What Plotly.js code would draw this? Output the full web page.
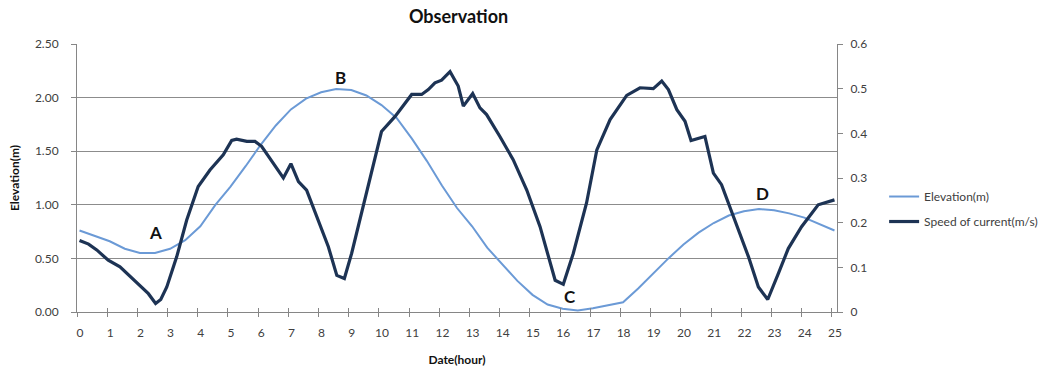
<!DOCTYPE html>
<html>
<head>
<meta charset="utf-8">
<script src="https://cdn.plot.ly/plotly-3.0.1.min.js"></script>
<style>
  html, body { margin: 0; padding: 0; background: #ffffff; }
  #chart { width: 1057px; height: 370px; }
</style>
</head>
<body>
<div id="chart"></div>
<script>
// Tidal observation over 25 hours: water elevation (left axis) and current speed (right axis)

// Hour labels along the bottom axis
const hourLabels = [0,1,2,3,4,5,6,7,8,9,10,11,12,13,14,15,16,17,18,19,20,21,22,23,24,25];

// Elevation (m), sampled every half hour
const elevationHour = [0,0.5,1,1.5,2,2.5,3,3.5,4,4.5,5,5.5,6,6.5,7,7.5,8,8.5,9,9.5,10,10.5,11,11.5,12,12.5,
                       13,13.5,14,14.5,15,15.5,16,16.5,17,17.5,18,18.5,19,19.5,20,20.5,21,21.5,22,22.5,23,23.5,24,24.5,25];
const elevation = [0.76,0.71,0.66,0.59,0.55,0.55,0.59,0.67,0.80,1.00,1.17,1.36,1.56,1.74,1.89,1.99,2.05,2.08,2.07,2.02,
                   1.93,1.81,1.62,1.41,1.18,0.97,0.80,0.60,0.44,0.29,0.16,0.07,0.03,0.015,0.035,0.06,0.09,0.22,0.36,0.50,
                   0.63,0.74,0.83,0.90,0.94,0.96,0.95,0.92,0.88,0.82,0.76];

// Speed of current (m/s)
const speedHour = [0,0.30,0.57,0.95,1.34,1.89,2.28,2.52,2.69,2.89,3.22,3.55,3.93,4.32,4.76,5.04,5.20,5.54,5.81,6.03,
                   6.14,6.42,6.75,7.00,7.25,7.52,7.91,8.24,8.52,8.77,9.01,9.45,9.78,10.00,10.45,11.00,11.33,11.55,11.77,11.99,
                   12.27,12.54,12.71,13.02,13.26,13.48,13.92,14.36,14.81,15.25,15.75,16.02,16.35,16.79,17.13,17.57,18.12,18.56,19.00,19.28,
                   19.50,19.78,20.05,20.25,20.71,20.99,21.26,21.71,22.15,22.48,22.79,23.14,23.47,23.91,24.46,25.00];
const speed = [0.160,0.152,0.139,0.116,0.101,0.067,0.041,0.019,0.028,0.056,0.124,0.206,0.281,0.318,0.352,0.384,0.387,0.382,0.382,0.371,
               0.360,0.333,0.300,0.332,0.292,0.273,0.206,0.146,0.082,0.075,0.131,0.251,0.348,0.404,0.438,0.487,0.487,0.498,0.513,0.519,
               0.538,0.506,0.461,0.489,0.457,0.442,0.393,0.341,0.273,0.191,0.071,0.062,0.131,0.244,0.363,0.431,0.485,0.502,0.500,0.517,
               0.498,0.453,0.427,0.384,0.393,0.311,0.285,0.206,0.124,0.056,0.028,0.086,0.142,0.191,0.240,0.251];

// Marked points of interest on the elevation scale
const markLabels = ['A','B','C','D'];
const markHour = [2.5, 8.65, 16.25, 22.6];
const markElev = [0.745, 2.19, 0.14, 1.11];

// Half a sampling step: category ticks sit between samples
const halfStep = 1 / 12;
const xRange = [-halfStep, 25 + halfStep];
const tickPos = hourLabels.map(h => h - halfStep);

const FONT = 'Lato, "Open Sans", sans-serif';
const AXIS_GRAY = '#868686';
const TEXT_GRAY = '#404040';

const traces = [
  {
    x: elevationHour, y: elevation, name: 'Elevation(m)',
    type: 'scatter', mode: 'lines', xaxis: 'x', yaxis: 'y',
    legendgroup: 'g1',
    line: { color: '#6b9ad6', width: 2 }
  },
  {
    x: speedHour, y: speed, name: 'Speed of current(m/s)',
    type: 'scatter', mode: 'lines', xaxis: 'x', yaxis: 'y2',
    legendgroup: 'g2',
    line: { color: '#1d3354', width: 3.2 }
  }
];

const layout = {
  width: 1057, height: 370,
  margin: { l: 77, r: 220, t: 44, b: 58, pad: 0 },
  paper_bgcolor: '#ffffff', plot_bgcolor: '#ffffff',
  font: { family: FONT, size: 12, color: TEXT_GRAY },
  title: {
    text: '<b>Observation</b>',
    font: { family: FONT, size: 18, color: '#111111' },
    x: 0.502, xref: 'paper', xanchor: 'center',
    y: 0.955, yref: 'container', yanchor: 'middle'
  },
  showlegend: true,
  legend: {
    x: 1.062, xanchor: 'left', y: 0.485, yanchor: 'top',
    font: { family: FONT, size: 12, color: TEXT_GRAY },
    tracegroupgap: 6, bgcolor: 'rgba(0,0,0,0)'
  },
  xaxis: {
    range: xRange, fixedrange: true,
    tickmode: 'array', tickvals: tickPos, ticktext: hourLabels.map(String),
    ticklabelshift: 3, ticklabelstandoff: 6,
    ticks: 'outside', ticklen: 4, tickcolor: AXIS_GRAY, tickwidth: 1,
    showline: true, linecolor: AXIS_GRAY, linewidth: 1,
    showgrid: false, zeroline: false,
    tickfont: { family: FONT, size: 12, color: TEXT_GRAY },
    title: { text: '<b>Date(hour)</b>', font: { family: FONT, size: 12, color: '#111111' }, standoff: 16 }
  },
  // Overlay axis that draws the inner half of the crossing tick marks
  xaxis2: {
    overlaying: 'x', anchor: 'y', range: xRange, fixedrange: true,
    tickmode: 'array', tickvals: tickPos, showticklabels: false,
    ticks: 'inside', ticklen: 4, tickcolor: AXIS_GRAY, tickwidth: 1,
    showline: false, showgrid: false, zeroline: false
  },
  yaxis: {
    range: [0, 2.5], fixedrange: true,
    tickmode: 'linear', tick0: 0, dtick: 0.5, tickformat: '.2f',
    ticks: 'outside', ticklen: 5, tickcolor: AXIS_GRAY, ticklabelstandoff: 10,
    showline: true, linecolor: AXIS_GRAY, linewidth: 1,
    showgrid: true, gridcolor: '#8c8c8c', gridwidth: 1, zeroline: false,
    tickfont: { family: FONT, size: 12, color: TEXT_GRAY },
    title: { text: '<b>Elevation(m)</b>', font: { family: FONT, size: 12, color: '#111111' }, standoff: 12 }
  },
  yaxis2: {
    overlaying: 'y', side: 'right', range: [0, 0.6], fixedrange: true,
    tickmode: 'linear', tick0: 0, dtick: 0.1,
    ticks: 'outside', ticklen: 5, tickcolor: AXIS_GRAY, ticklabelstandoff: 5,
    showline: true, linecolor: AXIS_GRAY, linewidth: 1,
    showgrid: false, zeroline: false,
    tickfont: { family: FONT, size: 12, color: TEXT_GRAY }
  },
  annotations: markLabels.map((t, i) => ({
    x: markHour[i], y: markElev[i], xref: 'x', yref: 'y',
    text: '<b>' + t + '</b>', showarrow: false,
    font: { family: FONT, size: 17, color: '#111111' },
    xanchor: 'center', yanchor: 'middle'
  }))
};

// Put a dummy trace on xaxis2 so the overlay axis is drawn
traces.push({ x: [xRange[0]], y: [0], xaxis: 'x2', yaxis: 'y', type: 'scatter', mode: 'lines',
              showlegend: false, hoverinfo: 'skip', line: { width: 0 } });

Plotly.newPlot('chart', traces, layout, { displayModeBar: false, staticPlot: true });
</script>
</body>
</html>
